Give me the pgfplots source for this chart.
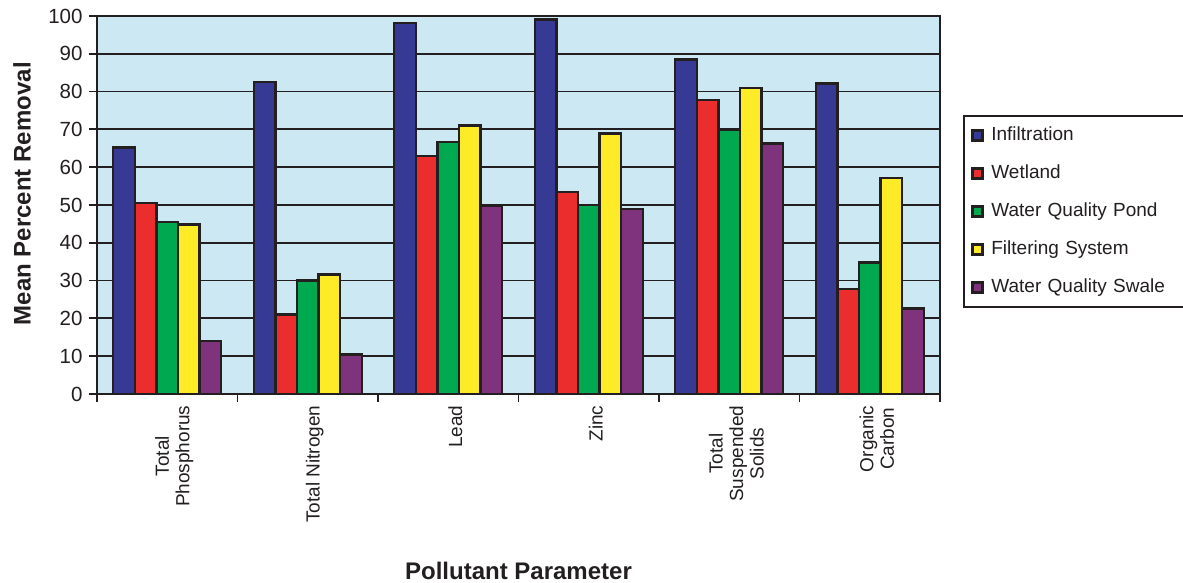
\documentclass[border=0pt]{standalone}
\usepackage{fontspec}
\setmainfont{Liberation Sans}
\usepackage{pgfplots}
\pgfplotsset{compat=1.18}
\definecolor{bgblue}{RGB}{204,232,242}
\definecolor{txt}{RGB}{35,31,32}
\definecolor{cInf}{RGB}{54,58,148}
\definecolor{cWet}{RGB}{235,45,46}
\definecolor{cPond}{RGB}{0,168,79}
\definecolor{cFilt}{RGB}{252,235,38}
\definecolor{cSwale}{RGB}{126,51,124}
\begin{document}
\begin{tikzpicture}
\begin{axis}[
  scale only axis, width=843pt, height=378pt,
  at={(0,0)}, anchor=south west,
  xmin=-0.5, xmax=5.5, ymin=0, ymax=100,
  ybar=0pt, bar width=21.6pt,
  axis background/.style={fill=bgblue},
  axis line style={line width=2.2pt, draw=txt},
  every tick/.style={line width=1.8pt, draw=txt},
  tick align=outside, major tick length=8pt,
  xtick pos=bottom, ytick pos=left,
  ytick={0,10,...,100},
  ymajorgrids, grid style={line width=1.8pt, draw=txt},
  xtick={-0.5,0.5,1.5,2.5,3.5,4.5,5.5},
  x tick label as interval,
  xticklabels={{Total\\Phosphorus}, {Total Nitrogen}, {Lead}, {Zinc}, {Total\\Suspended\\Solids}, {Organic\\Carbon}},
  x tick label style={rotate=90, anchor=east, align=center, font=\fontsize{19}{20.5}\selectfont, text=txt, yshift=-7pt},
  y tick label style={font=\fontsize{20.5}{22}\selectfont, text=txt, xshift=-3pt},
  /pgf/number format/assume math mode=true,
  xlabel={Pollutant Parameter},
  ylabel={Mean Percent Removal},
  every axis x label/.style={at={(axis description cs:0.5,-0.468)}, anchor=center, font=\fontsize{24}{26}\bfseries, text=txt},
  every axis y label/.style={at={(axis description cs:-0.089,0.53)}, anchor=center, rotate=90, font=\fontsize{24}{26}\bfseries, text=txt},
  every axis plot/.append style={draw=txt, line width=2.4pt},
  legend style={at={(axis description cs:1.027,0.738)}, anchor=north west,
    draw=txt, line width=2.2pt, inner sep=7.5pt, row sep=14pt,
    font=\fontsize{19}{22}\selectfont, text=txt,
    nodes={text height=14pt, text depth=4pt, inner sep=3pt, text width=200pt, align=left}},
  legend cell align=left,
  legend image code/.code={\draw[#1, draw=txt, line width=3pt] (0pt,-5pt) rectangle (10pt,5pt);},
]
\addplot[fill=cInf] coordinates {(0,65.2) (1,82.6) (2,98.1) (3,99.1) (4,88.5) (5,82.1)};
\addplot[fill=cWet] coordinates {(0,50.6) (1,21) (2,63) (3,53.4) (4,77.8) (5,27.8)};
\addplot[fill=cPond] coordinates {(0,45.5) (1,30) (2,66.7) (3,50) (4,69.8) (5,34.8)};
\addplot[fill=cFilt] coordinates {(0,44.8) (1,31.6) (2,71) (3,68.9) (4,81) (5,57.1)};
\addplot[fill=cSwale] coordinates {(0,14) (1,10.5) (2,49.7) (3,49) (4,66.3) (5,22.6)};
\legend{\hspace{4pt}Infiltration, \hspace{4pt}Wetland, \hspace{4pt}Water Quality Pond, \hspace{4pt}Filtering System, \hspace{4pt}Water Quality Swale}
\end{axis}
\pgfresetboundingbox
\path (-97pt,-189pt) rectangle (1086pt,394pt);
\end{tikzpicture}
\end{document}
